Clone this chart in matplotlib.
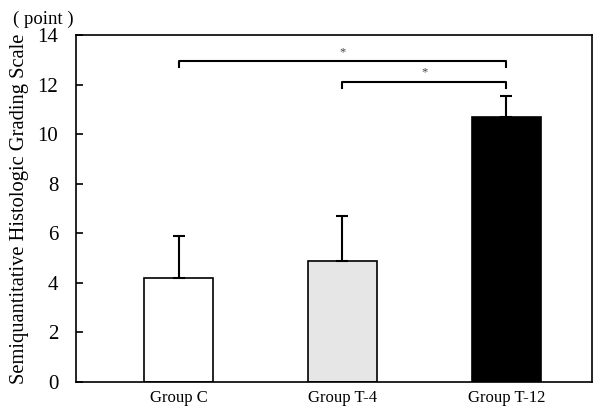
import numpy as np
import matplotlib.pyplot as plt

plt.rcParams['font.family'] = ['Liberation Serif', 'DejaVu Serif']

groups = ["Group C", "Group T-4", "Group T-12"]
means = [4.19, 4.90, 10.70]
errs = [1.70, 1.78, 0.84]
colors = ["white", "#e6e6e6", "black"]

# significance brackets: (from, to, height)
brackets = [(0, 2, 12.95), (1, 2, 12.12)]

fig = plt.figure(figsize=(6, 4.12), dpi=100)
ax = fig.add_axes([0.127, 0.0728, 0.86, 0.842])

x = np.arange(len(groups))
ax.bar(x, means, width=0.42, color=colors, edgecolor="black", linewidth=1.2, zorder=2)
ax.errorbar(x, means, yerr=[np.zeros(3), errs], fmt="none", ecolor="black",
            elinewidth=1.5, capsize=4, capthick=1.5, zorder=3)

for a, b, h in brackets:
    ax.plot([a, a, b, b], [h - 0.25, h, h, h - 0.25], color="black", lw=1.5)
    ax.text((a + b) / 2, h + 0.12, "*", ha="center", va="bottom", fontsize=9, color="#444444")

ax.set_xlim(-0.625, 2.524)
ax.set_ylim(0, 14)
ax.set_yticks(np.arange(0, 15, 2))
ax.set_xticks(x)
ax.set_xticklabels(groups, fontsize=12)
ax.tick_params(axis="y", direction="in", labelsize=15, length=5, width=1.2, pad=13)
ax.tick_params(axis="x", length=0, pad=6)
for s in ax.spines.values():
    s.set_linewidth(1.2)

ax.set_ylabel("Semiquantitative Histologic Grading Scale", fontsize=14.8, labelpad=6)
fig.text(0.072, 0.975, "( point )", ha="center", va="top", fontsize=13.5)

fig.savefig("out.png", dpi=100)
